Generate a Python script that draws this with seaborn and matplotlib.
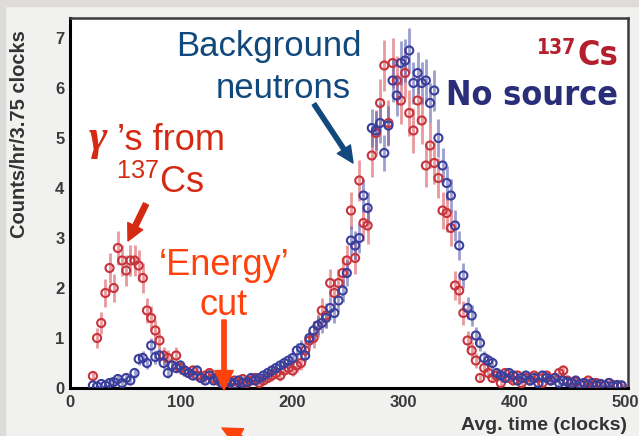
import numpy as np
import pandas as pd
import matplotlib
matplotlib.use("Agg")
import matplotlib.pyplot as plt
from matplotlib import font_manager as fm
from matplotlib.patches import FancyArrowPatch, Rectangle
from matplotlib.ticker import MultipleLocator
import seaborn as sns

# ---- histogram data: counts/hr per 3.75-clock bin ----
bin_width = 3.75
first_bin = 5          # first filled bin index (bins start at 0 clocks)

cs137 = [0.24, 1.0, 1.3, 1.9, 2.4, 2.0, 2.8, 2.55, 2.35, 2.55,
         2.55, 2.45, 2.2, 1.55, 1.4, 1.15, 0.95, 0.65, 0.6, 0.45,
         0.65, 0.4, 0.35, 0.3, 0.35, 0.25, 0.2, 0.25, 0.3, 0.2,
         0.15, 0.1, 0.12, 0.1, 0.15, 0.12, 0.18, 0.1, 0.15, 0.2,
         0.1, 0.15, 0.2, 0.25, 0.3, 0.25, 0.35, 0.4, 0.35, 0.45,
         0.5, 0.75, 0.95, 1.0, 1.25, 1.55, 1.45, 2.1, 1.9, 2.1,
         2.3, 2.55, 3.55, 2.6, 4.15, 3.3, 3.25, 4.65, 5.1, 5.7,
         6.45, 5.3, 6.5, 6.15, 5.75, 6.3, 5.5, 5.15, 5.75, 5.35,
         4.45, 4.85, 4.5, 4.2, 3.55, 3.5, 3.2, 2.05, 1.95, 1.5,
         0.95, 0.75, 0.55, 0.2, 0.4, 0.3, 0.2, 0.25, 0.1, 0.3,
         0.2, 0.15, 0.25, 0.1, 0.2, 0.15, 0.25, 0.2, 0.1, 0.25,
         0.15, 0.2, 0.3, 0.35, 0.15, 0.1, 0.12, 0.08, 0.1, 0.15,
         0.05, 0.1, 0.08, 0.05, 0.1, 0.06, 0.04, 0.05]

no_source = [0.05, 0.03, 0.08, 0.05, 0.1, 0.12, 0.18, 0.1, 0.2, 0.15,
             0.3, 0.58, 0.6, 0.5, 0.85, 0.62, 0.65, 0.5, 0.3, 0.45,
             0.4, 0.45, 0.35, 0.3, 0.25, 0.35, 0.2, 0.15, 0.25, 0.15,
             0.2, 0.1, 0.15, 0.12, 0.08, 0.15, 0.1, 0.12, 0.2, 0.15,
             0.2, 0.25, 0.3, 0.35, 0.4, 0.45, 0.5, 0.55, 0.6, 0.75,
             0.8, 0.65, 1.0, 1.15, 1.25, 1.3, 1.4, 1.6, 1.5, 1.75,
             1.95, 2.3, 2.95, 2.85, 3.0, 3.85, 3.6, 5.2, 5.15, 5.3,
             4.7, 5.25, 6.15, 5.85, 6.5, 6.55, 6.75, 6.1, 6.3, 6.1,
             6.15, 5.7, 5.95, 5.0, 4.45, 4.1, 3.85, 3.25, 2.85, 2.25,
             1.6, 1.45, 1.05, 0.9, 0.6, 0.55, 0.5, 0.3, 0.25, 0.2,
             0.3, 0.25, 0.15, 0.2, 0.25, 0.15, 0.2, 0.1, 0.25, 0.2,
             0.15, 0.2, 0.1, 0.15, 0.12, 0.1, 0.15, 0.08, 0.1, 0.06,
             0.1, 0.05, 0.08, 0.05, 0.1, 0.04, 0.06, 0.05]

# relative Poisson scale of each run (shorter live time -> larger errors)
err_scale = {"cs": 0.20, "bg": 0.17}

x_ticks = [0, 100, 200, 300, 400, 500]
y_ticks = [0, 1, 2, 3, 4, 5, 6, 7]

centers = (np.arange(len(cs137)) + first_bin + 0.5) * bin_width
df = pd.DataFrame({
    "time": np.concatenate([centers, centers]),
    "rate": cs137 + no_source,
    "run": ["cs"] * len(cs137) + ["bg"] * len(no_source),
})
df["err"] = [max(err_scale[r] * np.sqrt(v), 0.04) for r, v in zip(df["run"], df["rate"])]

# ---- style ----
sns.set_style("white")


def available(name):
    try:
        fm.findfont(fm.FontProperties(family=name), fallback_to_default=False)
        return True
    except Exception:
        return False


def narrow_bold_file():
    """Look for an installed bold condensed/narrow sans face."""
    for f in fm.fontManager.ttflist:
        key = (f.fname + " " + f.name).lower()
        if ("narrow" in key or "condensed" in key) and "bold" in key \
                and "oblique" not in key and "italic" not in key \
                and "mono" not in key and "serif" not in key:
            return f.fname
    return None


sans = "Liberation Sans" if available("Liberation Sans") else "DejaVu Sans"
serif = "Liberation Serif" if available("Liberation Serif") else "DejaVu Serif"
plt.rcParams["font.family"] = [sans, "DejaVu Sans"]
plt.rcParams["mathtext.fontset"] = "custom"
plt.rcParams["mathtext.rm"] = sans

narrow_path = narrow_bold_file()
if narrow_path:
    big_label = dict(fontproperties=fm.FontProperties(fname=narrow_path, size=24.5))
    small_label = dict(fontproperties=fm.FontProperties(fname=narrow_path, size=15))
else:
    big_label = dict(family=sans, fontweight="bold", fontsize=24.5)
    small_label = dict(family=sans, fontweight="bold", fontsize=15)

W, H = 639, 436
fig = plt.figure(figsize=(W / 100, H / 100), dpi=100, facecolor="#f1f1f0")
fig.add_artist(Rectangle((0, 0), 5 / W, 1, transform=fig.transFigure,
                         color="#dddcda", zorder=-10))
fig.add_artist(Rectangle((0, 1 - 6 / H), 1, 6 / H, transform=fig.transFigure,
                         color="#dddcda", zorder=-10))

ax_l, ax_r, ax_t, ax_b = 70, 628, 18, 388
ax = fig.add_axes([ax_l / W, 1 - ax_b / H, (ax_r - ax_l) / W, (ax_b - ax_t) / H])
ax.set_facecolor("white")

runs = {
    "cs": dict(edge="#c7343b", bar="#d9575d"),
    "bg": dict(edge="#3a3f9b", bar="#5a60b0"),
}
for run in ["cs", "bg"]:
    sub = df[df["run"] == run]
    ax.errorbar(sub["time"], sub["rate"], yerr=sub["err"], fmt="none",
                ecolor=runs[run]["bar"], elinewidth=2.0, alpha=0.6, zorder=2)
    sns.scatterplot(data=sub, x="time", y="rate", ax=ax, marker="o", s=34,
                    facecolors="none", edgecolor=runs[run]["edge"],
                    linewidth=1.5, zorder=3, legend=False)

ax.set_xlim(0, 502.7)
ax.set_ylim(0, 7.4)
ax.set_xticks(x_ticks)
ax.set_yticks(y_ticks)
ax.set_xticklabels([str(v) for v in x_ticks])
ax.set_yticklabels([str(v) for v in y_ticks])
ax.xaxis.set_minor_locator(MultipleLocator(20))
ax.yaxis.set_minor_locator(MultipleLocator(0.2))
ax.tick_params(which="both", direction="in", top=False, right=False,
               colors="#222222", width=1.3)
ax.tick_params(axis="y", which="major", length=13, pad=4)
ax.tick_params(axis="y", which="minor", length=7)
ax.tick_params(axis="x", which="major", length=7, pad=5)
ax.tick_params(axis="x", which="minor", length=3.5)
for lab in ax.get_xticklabels() + ax.get_yticklabels():
    lab.set_fontweight("bold")
    lab.set_fontsize(12)
    lab.set_color("#3a3a3a")
ax.set_xlabel("")
ax.set_ylabel("")
for side in ["left", "bottom"]:
    ax.spines[side].set_color("black")
    ax.spines[side].set_linewidth(2.2)
for side in ["top", "right"]:
    ax.spines[side].set_color("#3c3c3c")
    ax.spines[side].set_linewidth(1.8)


def fp(px, py):
    return px / W, 1 - py / H


# axis titles
fig.text(*fp(20, 134), "Counts/hr/3.75 clocks", rotation=90, ha="center",
         va="center", fontsize=14.5, fontweight="bold", color="#333333")
fig.text(*fp(627, 430), "Avg. time (clocks)", ha="right", va="baseline",
         fontsize=14, fontweight="bold", color="#333333")

# run labels (top right)
cs_red = "#b41e2d"
cs_txt = fig.text(*fp(618, 65), "Cs", ha="right", va="baseline",
                  color=cs_red, **big_label)
fig.text(*fp(618, 105), "No source", ha="right", va="baseline",
         color="#2a2e78", **big_label)
renderer = fig.canvas.get_renderer()
cs_left = cs_txt.get_window_extent(renderer).x0
fig.text(cs_left / W - 1 / W, 1 - 38 / H, "137", ha="right", va="top",
         color=cs_red, **small_label)

# annotations
navy = "#12497d"
red = "#d42a14"
orange = "#ff420c"
fig.text(*fp(269, 56), "Background", ha="center", va="baseline",
         fontsize=25, color=navy)
fig.text(*fp(283, 98), "neutrons", ha="center", va="baseline",
         fontsize=25, color=navy)
fig.text(*fp(89, 150), "\u03b3", ha="left", va="baseline", fontsize=32,
         family=serif, fontstyle="italic", fontweight="bold", color=red)
fig.text(*fp(117, 150), "\u2019s from", ha="left", va="baseline",
         fontsize=26, color=red)
fig.text(*fp(116, 193), r"$^{137}$Cs", ha="left", va="baseline",
         fontsize=26, color=red)
fig.text(*fp(224, 275), "\u2018Energy\u2019", ha="center", va="baseline",
         fontsize=26, color=orange)
fig.text(*fp(224, 315), "cut", ha="center", va="baseline",
         fontsize=26, color=orange)


def arrow(p0, p1, color, head_len, head_w, tail_w, scale=14):
    style = f"simple,head_length={head_len},head_width={head_w},tail_width={tail_w}"
    fig.add_artist(FancyArrowPatch(fp(*p0), fp(*p1), transform=fig.transFigure,
                                   arrowstyle=style, mutation_scale=scale,
                                   color=color, shrinkA=0, shrinkB=0, zorder=5))


arrow((314, 104), (353, 163), navy, 0.85, 0.8, 0.22)
arrow((146, 204), (128, 241), red, 0.85, 0.85, 0.28)
arrow((224, 320), (224, 390), orange, 1.0, 0.95, 0.22)
arrow((268, 452), (222, 428), orange, 1.0, 0.95, 0.22)

fig.savefig("out.png", dpi=100, facecolor=fig.get_facecolor())
